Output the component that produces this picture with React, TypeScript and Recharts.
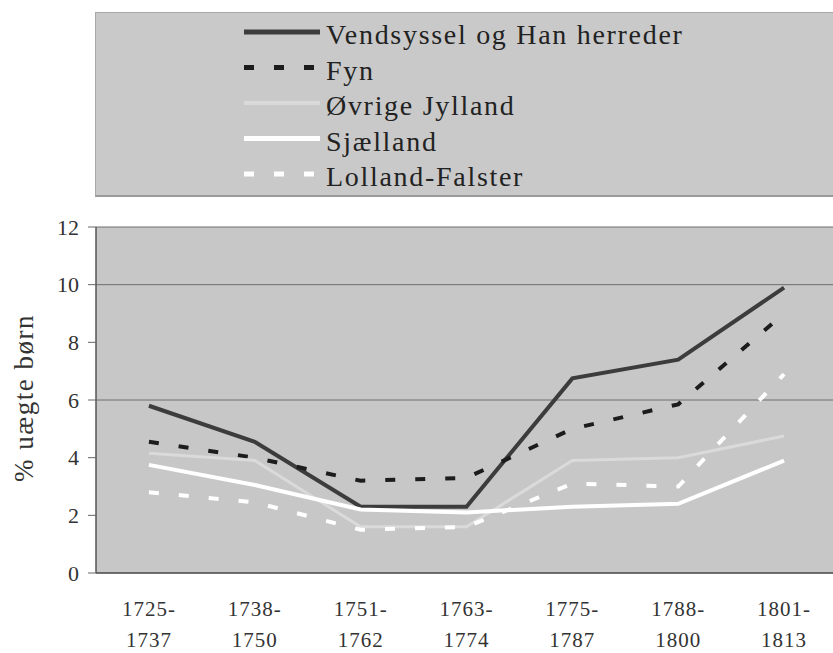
import React from 'react';
import { LineChart, Line, XAxis, YAxis, CartesianGrid, Legend } from 'recharts';

const periodStart = ['1725-', '1738-', '1751-', '1763-', '1775-', '1788-', '1801-'];
const periodEnd = ['1737', '1750', '1762', '1774', '1787', '1800', '1813'];

const vendsyssel = [5.8, 4.55, 2.3, 2.3, 6.75, 7.4, 9.9];
const fyn = [4.55, 4.0, 3.2, 3.3, 5.0, 5.85, 9.0];
const ovrigeJylland = [4.15, 3.9, 1.6, 1.6, 3.9, 4.0, 4.75];
const sjaelland = [3.75, 3.05, 2.2, 2.1, 2.3, 2.4, 3.9];
const lollandFalster = [2.8, 2.45, 1.5, 1.6, 3.1, 3.0, 6.9];

const seriesNames = ['Vendsyssel og Han herreder', 'Fyn', 'Øvrige Jylland', 'Sjælland', 'Lolland-Falster'];
const yTicks = [0, 2, 4, 6, 8, 10, 12];
const gridValues = [6, 10, 12];

const data = periodStart.map((p, i) => ({
  i,
  v: vendsyssel[i],
  f: fyn[i],
  o: ovrigeJylland[i],
  s: sjaelland[i],
  l: lollandFalster[i],
}));
const centerTicks = periodStart.map((_, i) => i);
const edgeTicks = [...periodStart.map((_, i) => i - 0.5), periodStart.length - 0.5];

const FONT = 'Liberation Serif, DejaVu Serif, serif';

const XTick = (props: any) => {
  const { x, y, payload } = props;
  return (
    <text x={x} y={y} textAnchor="middle" style={{ fontFamily: FONT }} fontSize={21} fill="#333" letterSpacing={1}>
      <tspan x={x} dy={43}>{periodStart[payload.value]}</tspan>
      <tspan x={x} dy={31}>{periodEnd[payload.value]}</tspan>
    </text>
  );
};

const YLabel = (props: any) => {
  const vb = props.viewBox || { x: 0, y: 227, width: 96, height: 346 };
  const x = vb.x + 33;
  const y = vb.y + vb.height / 2 - 2;
  return (
    <text
      x={x}
      y={y}
      transform={`rotate(-90, ${x}, ${y})`}
      textAnchor="middle"
      style={{ fontFamily: FONT }}
      fontSize={27}
      letterSpacing={1.5}
      fill="#333"
    >
      % uægte børn
    </text>
  );
};

const LegendContent = (props: any) => {
  const payload = (props.payload || []).slice().sort(
    (a: any, b: any) => seriesNames.indexOf(a.value) - seriesNames.indexOf(b.value)
  );
  return (
    <div
      style={{
        width: 760,
        height: 185,
        background: '#c9c9c9',
        borderTop: '1px solid #a8a8a8',
        borderLeft: '1px solid #a8a8a8',
        borderBottom: '2px solid #9a9a9a',
        boxSizing: 'border-box',
      }}
    >
      <svg width={760} height={185} style={{ display: 'block' }}>
        {payload.map((item: any, idx: number) => {
          const p = item.payload || {};
          const cy = 19 + idx * 35.5;
          return (
            <g key={item.value}>
              <line
                x1={148}
                x2={224}
                y1={cy}
                y2={cy}
                stroke={p.stroke || item.color}
                strokeWidth={(p.strokeWidth || 4) + 1}
                strokeDasharray={p.strokeDasharray}
              />
              <text x={230} y={cy + 12} style={{ fontFamily: FONT }} fontSize={28} letterSpacing={1.7} fill="#222">
                {item.value}
              </text>
            </g>
          );
        })}
      </svg>
    </div>
  );
};

export default function App() {
  return (
    <div style={{ position: 'absolute', left: 0, top: 0, width: 833, height: 653, overflow: 'hidden', background: '#fff', fontFamily: FONT }}>
      <LineChart width={850} height={653} data={data} margin={{ top: 227, right: 13, bottom: 0, left: 0 }}>
        <CartesianGrid
          vertical={false}
          horizontalValues={gridValues}
          stroke="#6e6e6e"
          strokeWidth={1}
          fill="#c7c7c7"
          fillOpacity={1}
        />
        <XAxis
          xAxisId="edges"
          dataKey="i"
          type="number"
          domain={[-0.5, 6.5]}
          ticks={edgeTicks}
          tick={false}
          tickSize={7}
          tickLine={{ stroke: '#555' }}
          axisLine={false}
          height={0}
        />
        <XAxis
          dataKey="i"
          type="number"
          domain={[-0.5, 6.5]}
          ticks={centerTicks}
          tick={<XTick />}
          tickLine={false}
          tickSize={0}
          tickMargin={0}
          axisLine={{ stroke: '#444', strokeWidth: 1.5 }}
          height={80}
          interval={0}
        />
        <YAxis
          domain={[0, 12]}
          ticks={yTicks}
          width={96}
          tickSize={8}
          tickMargin={9}
          axisLine={{ stroke: '#555', strokeWidth: 1.5 }}
          tickLine={{ stroke: '#666' }}
          tick={{ fontSize: 22, fill: '#333', style: { fontFamily: FONT } }}
          label={<YLabel />}
        />
        <Legend
          layout="vertical"
          align="center"
          verticalAlign="middle"
          content={<LegendContent />}
          wrapperStyle={{ position: 'absolute', left: 95, top: 12, width: 760, height: 185, margin: 0 }}
        />
        <Line name={seriesNames[0]} dataKey="v" stroke="#3c3c3c" strokeWidth={4} dot={false} isAnimationActive={false} />
        <Line name={seriesNames[1]} dataKey="f" stroke="#1c1c1c" strokeWidth={4} strokeDasharray="10 20" dot={false} isAnimationActive={false} />
        <Line name={seriesNames[2]} dataKey="o" stroke="#dadada" strokeWidth={3} dot={false} isAnimationActive={false} />
        <Line name={seriesNames[3]} dataKey="s" stroke="#ffffff" strokeWidth={4} dot={false} isAnimationActive={false} />
        <Line name={seriesNames[4]} dataKey="l" stroke="#ffffff" strokeWidth={4} strokeDasharray="10 20" dot={false} isAnimationActive={false} />
      </LineChart>
    </div>
  );
}
